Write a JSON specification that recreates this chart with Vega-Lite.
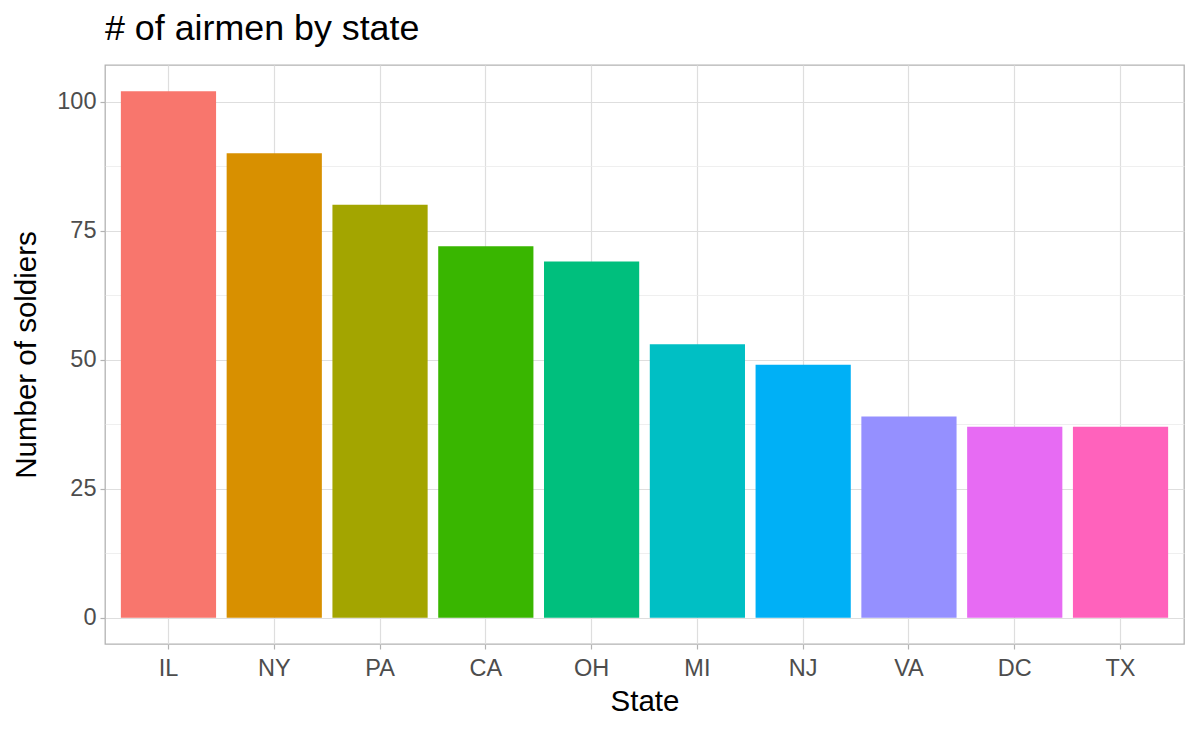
{
  "$schema": "https://vega.github.io/schema/vega-lite/v6.json",
  "autosize": "none",
  "width": 1079,
  "height": 579,
  "padding": {"left": 105, "top": 65, "right": 16, "bottom": 88},
  "background": "white",
  "title": {
    "text": "# of airmen by state",
    "anchor": "start",
    "frame": "group",
    "font": "Liberation Sans",
    "fontSize": 35.8,
    "fontWeight": "normal",
    "color": "black",
    "offset": 17
  },
  "config": {
    "view": {"stroke": "#b3b3b3", "strokeWidth": 1.3},
    "axis": {
      "labelFont": "Liberation Sans",
      "titleFont": "Liberation Sans",
      "labelFontSize": 23.5,
      "titleFontSize": 29.5,
      "titleFontWeight": "normal",
      "labelColor": "#4d4d4d",
      "titleColor": "black",
      "domain": false,
      "tickColor": "#b3b3b3",
      "tickSize": 5,
      "tickWidth": 1.2,
      "gridColor": "#dedede",
      "gridWidth": 1.2
    }
  },
  "data": {
    "values": [
      {"state": "IL", "n": 102},
      {"state": "NY", "n": 90},
      {"state": "PA", "n": 80},
      {"state": "CA", "n": 72},
      {"state": "OH", "n": 69},
      {"state": "MI", "n": 53},
      {"state": "NJ", "n": 49},
      {"state": "VA", "n": 39},
      {"state": "DC", "n": 37},
      {"state": "TX", "n": 37}
    ]
  },
  "mark": {"type": "bar"},
  "encoding": {
    "x": {
      "field": "state",
      "type": "nominal",
      "sort": ["IL", "NY", "PA", "CA", "OH", "MI", "NJ", "VA", "DC", "TX"],
      "scale": {"paddingInner": 0.1, "paddingOuter": 0.15},
      "axis": {
        "title": "State",
        "labelAngle": 0,
        "labelPadding": 7,
        "titlePadding": 8,
        "grid": true,
        "bandPosition": 0.5
      }
    },
    "y": {
      "field": "n",
      "type": "quantitative",
      "scale": {"domain": [-5.1, 107.1], "nice": false, "zero": false},
      "axis": {
        "title": "Number of soldiers",
        "values": [0, 12.5, 25, 37.5, 50, 62.5, 75, 87.5, 100],
        "labelExpr": "datum.value % 25 === 0 ? format(datum.value, 'd') : ''",
        "labelPadding": 4,
        "titlePadding": 15,
        "tickOpacity": {"condition": {"test": "datum.value % 25 !== 0", "value": 0}, "value": 1},
        "gridColor": {"condition": {"test": "datum.value % 25 !== 0", "value": "#ebebeb"}, "value": "#dedede"},
        "gridWidth": {"condition": {"test": "datum.value % 25 !== 0", "value": 0.8}, "value": 1.2}
      }
    },
    "color": {
      "field": "state",
      "type": "nominal",
      "sort": ["IL", "NY", "PA", "CA", "OH", "MI", "NJ", "VA", "DC", "TX"],
      "scale": {"range": ["#F8766D", "#D89000", "#A3A500", "#39B600", "#00BF7D", "#00BFC4", "#00B0F6", "#9590FF", "#E76BF3", "#FF62BC"]},
      "legend": null
    }
  }
}
